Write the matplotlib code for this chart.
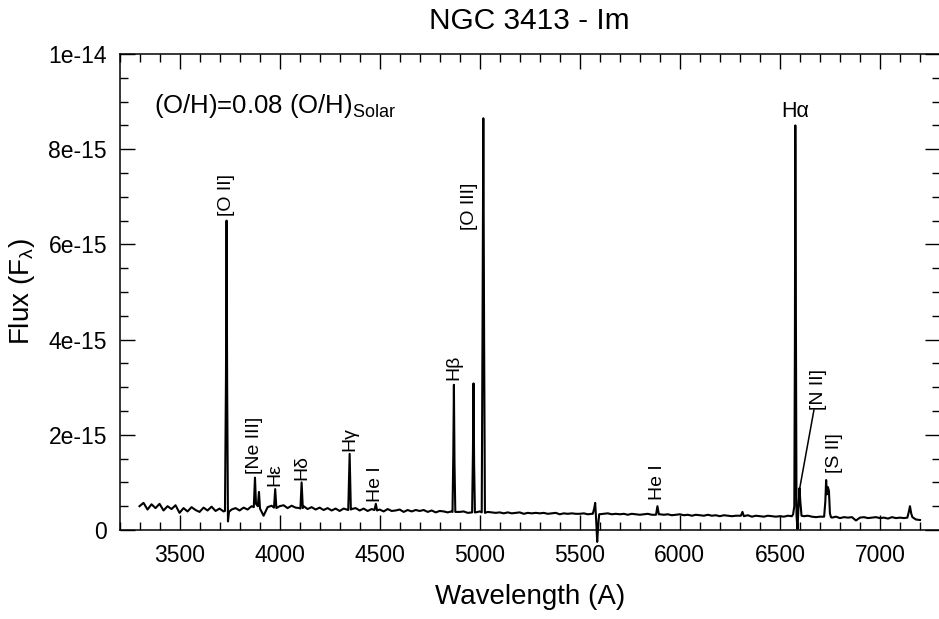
import numpy as np
import matplotlib
matplotlib.use("Agg")
import matplotlib.pyplot as plt
from matplotlib.ticker import MultipleLocator, FixedLocator

plt.rcParams["font.family"] = ["Liberation Sans", "DejaVu Sans"]
plt.rcParams["mathtext.fontset"] = "custom"
plt.rcParams["mathtext.rm"] = "Liberation Sans"
plt.rcParams["mathtext.it"] = "Liberation Sans:italic"
plt.rcParams["mathtext.default"] = "regular"

# continuum, sampled every 20 A from 3300 to 7200 (units of 1e-15)
cont_start, cont_step = 3300, 20
continuum = [
    0.50, 0.57, 0.43, 0.54, 0.46, 0.55, 0.41, 0.50, 0.44, 0.52,
    0.36, 0.46, 0.39, 0.48, 0.42, 0.38, 0.47, 0.41, 0.49, 0.40,
    0.45, 0.39, 0.40, 0.43, 0.46, 0.41, 0.47, 0.43, 0.50, 0.47,
    0.46, 0.30, 0.48, 0.51, 0.44, 0.50, 0.52, 0.46, 0.51, 0.47,
    0.46, 0.50, 0.44, 0.48, 0.43, 0.47, 0.42, 0.46, 0.41, 0.45,
    0.40, 0.45, 0.39, 0.44, 0.46, 0.41, 0.45, 0.40, 0.44, 0.41,
    0.43, 0.39, 0.44, 0.40, 0.41, 0.43, 0.38, 0.42, 0.39, 0.42,
    0.40, 0.42, 0.38, 0.41, 0.37, 0.40, 0.39, 0.37, 0.39, 0.38,
    0.38, 0.39, 0.36, 0.38, 0.37, 0.39, 0.36, 0.38, 0.37, 0.36,
    0.37, 0.35, 0.37, 0.35, 0.36, 0.37, 0.34, 0.36, 0.35, 0.36,
    0.35, 0.36, 0.34, 0.35, 0.36, 0.33, 0.35, 0.34, 0.35, 0.34,
    0.34, 0.35, 0.33, 0.34, 0.35, 0.33, 0.34, 0.35, 0.33, 0.34,
    0.33, 0.34, 0.32, 0.34, 0.33, 0.32, 0.33, 0.34, 0.32, 0.33,
    0.33, 0.32, 0.33, 0.31, 0.32, 0.33, 0.31, 0.32, 0.30, 0.32,
    0.31, 0.30, 0.32, 0.30, 0.31, 0.29, 0.31, 0.30, 0.29, 0.30,
    0.30, 0.29, 0.31, 0.28, 0.30, 0.29, 0.28, 0.30, 0.29, 0.28,
    0.29, 0.28, 0.30, 0.29, 0.28, 0.27, 0.29, 0.30, 0.28, 0.27,
    0.28, 0.29, 0.27, 0.26, 0.28, 0.25, 0.27, 0.26, 0.27, 0.20,
    0.26, 0.27, 0.25, 0.26, 0.27, 0.25, 0.26, 0.24, 0.27, 0.25,
    0.26, 0.25, 0.27, 0.24, 0.22, 0.21,
]

# emission features: (wavelength, flux) points, units of 1e-15
features = [
    [(3727, 0.40), (3732, 3.2), (3735, 6.5), (3738, 3.0), (3742, 0.18), (3747, 0.38)],
    [(3871, 0.48), (3877, 1.10), (3882, 0.55), (3891, 0.50), (3897, 0.80), (3902, 0.45)],
    [(3972, 0.47), (3978, 0.86), (3984, 0.46)],
    [(4104, 0.45), (4110, 1.00), (4116, 0.46)],
    [(4343, 0.42), (4350, 1.60), (4356, 0.43)],
    [(4474, 0.42), (4481, 0.55), (4487, 0.41)],
    [(4864, 0.38), (4868, 1.6), (4871, 3.05), (4874, 1.4), (4878, 0.38)],
    [(4962, 0.37), (4966, 1.6), (4969, 3.08), (4972, 1.4), (4976, 0.37)],
    [(5010, 0.37), (5014, 4.2), (5018, 8.65), (5022, 4.0), (5026, 0.36)],
    [(5565, 0.34), (5572, 0.45), (5577, 0.57), (5582, 0.20), (5587, -0.25), (5592, 0.10), (5597, 0.33)],
    [(5881, 0.32), (5888, 0.50), (5895, 0.33)],
    [(6305, 0.30), (6313, 0.38), (6320, 0.29)],
    [(6566, 0.33), (6572, 0.50), (6575, 4.0), (6577, 8.5), (6580, 4.2), (6583, 0.30),
     (6588, 0.02), (6593, 0.50), (6598, 0.88), (6602, 0.60), (6608, 0.30)],
    [(6721, 0.28), (6727, 0.60), (6731, 1.05), (6735, 0.75), (6740, 0.90), (6745, 0.82),
     (6750, 0.35), (6755, 0.27)],
    [(7137, 0.26), (7144, 0.38), (7150, 0.50), (7156, 0.35), (7162, 0.27)],
]

# line identifications: (label, wavelength, label bottom in 1e-15)
labels = [
    ("[O II]", 3735, 6.6),
    ("[Ne III]", 3877, 1.18),
    ("H\u03b5", 3978, 0.92),
    ("H\u03b4", 4110, 1.05),
    ("H\u03b3", 4350, 1.66),
    ("He I", 4481, 0.58),
    ("H\u03b2", 4871, 3.15),
    ("[O III]", 4948, 6.3),
    ("He I", 5888, 0.62),
    ("[S II]", 6775, 1.2),
]

xticks = [3500, 4000, 4500, 5000, 5500, 6000, 6500, 7000]
yticks = [0, 2e-15, 4e-15, 6e-15, 8e-15, 1e-14]
ytick_labels = ["0", "2e-15", "4e-15", "6e-15", "8e-15", "1e-14"]

# assemble the spectrum
wl = [cont_start + cont_step * i for i in range(len(continuum))]
points = []
for w, f in zip(wl, continuum):
    if any(g[0][0] - 3 <= w <= g[-1][0] + 3 for g in features):
        continue
    points.append((w, f))
for g in features:
    points.extend(g)
points.sort()
spec_wl = np.array([p[0] for p in points])
spec_flux = np.array([p[1] for p in points]) * 1e-15

fig = plt.figure(figsize=(9.39, 6.19), dpi=100)
ax = fig.add_axes([119.5 / 939, 89 / 619, 820.5 / 939, 476 / 619])

ax.plot(spec_wl, spec_flux, color="black", lw=1.5, clip_on=False)

ax.set_xlim(3200, 7300)
ax.set_ylim(0, 1e-14)
ax.xaxis.set_major_locator(FixedLocator(xticks))
ax.xaxis.set_minor_locator(MultipleLocator(100))
ax.yaxis.set_major_locator(FixedLocator(yticks))
ax.yaxis.set_minor_locator(MultipleLocator(0.5e-15))
ax.set_yticklabels(ytick_labels)
ax.tick_params(which="both", direction="in", top=True, right=True, width=1.0, labelsize=16.5)
ax.tick_params(which="major", length=11)
ax.tick_params(which="minor", length=5.5)
ax.tick_params(axis="x", pad=10)
ax.tick_params(axis="y", pad=9)
for s in ax.spines.values():
    s.set_linewidth(1.1)

ax.set_title("NGC 3413 - Im", fontsize=21.5, pad=18)
ax.set_xlabel("Wavelength (A)", fontsize=20, labelpad=12)
ax.set_ylabel("Flux (F$_{λ}$)", fontsize=20, labelpad=8)

for text, w, y in labels:
    ax.text(w, y * 1e-15, text, rotation=90, ha="center", va="bottom", fontsize=14)

ax.text(6577, 8.57e-15, "H\u03b1", ha="center", va="bottom", fontsize=15.5)
ax.text(6695, 2.52e-15, "[N II]", rotation=90, ha="center", va="bottom", fontsize=14)
ax.plot([6670, 6600], [2.52e-15, 0.9e-15], color="black", lw=1.1)

ax.text(3370, 8.75e-15, "(O/H)=0.08 (O/H)$_{Solar}$", fontsize=18.5, va="baseline")

fig.savefig("out.png", dpi=100)
